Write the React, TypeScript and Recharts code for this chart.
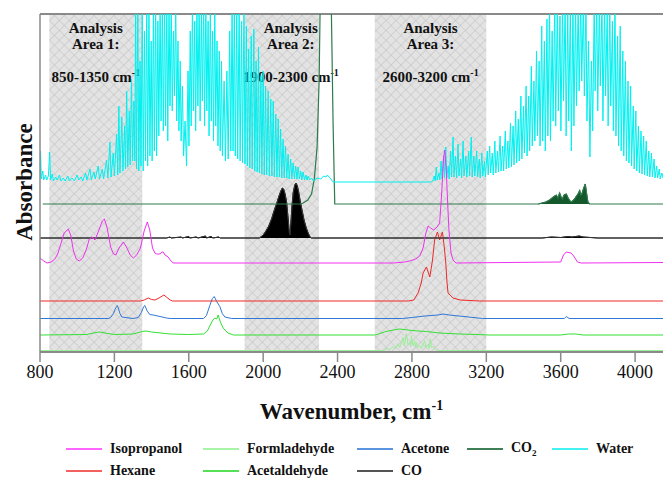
import React from "react";
import {
  ComposedChart,
  Line,
  Area,
  XAxis,
  YAxis,
  ReferenceArea,
  ReferenceLine,
} from "recharts";

// stacked FTIR reference spectra; each series = [wavenumber, absorbance above its own offset]
const X_TICKS = [800, 1200, 1600, 2000, 2400, 2800, 3200, 3600, 4000];
const X_DOMAIN: [number, number] = [800, 4150];
const Y_TOP = 3.38;

const ANALYSIS_AREAS = [
  { n: 1, from: 850, to: 1350 },
  { n: 2, from: 1900, to: 2300 },
  { n: 3, from: 2600, to: 3200 },
];

const OFFSETS = {
  water: 1.71,
  co2: 1.48,
  co: 1.14,
  isopropanol: 0.89,
  hexane: 0.51,
  acetone: 0.335,
  acetaldehyde: 0.17,
  formaldehyde: 0.015,
};

const water: number[][] = [
  [800, 0.04], [803, 0.3], [807, 0.02], [815, 0.1], [820, 0.01], [830, 0.06], [836, 0.01], [845, 0.05],
  [852, 0.29], [857, 0.01], [866, 0.07], [872, 0], [884, 0.04], [892, 0.01], [905, 0.06], [912, 0],
  [925, 0.03], [935, 0], [950, 0.05], [958, 0], [972, 0.03], [985, 0], [1000, 0.06], [1008, 0.01],
  [1022, 0.04], [1030, 0], [1045, 0.08], [1052, 0.01], [1069, 0.12], [1076, 0.01], [1090, 0.09],
  [1097, 0.02], [1113, 0.15], [1120, 0.02], [1135, 0.12], [1142, 0.02], [1158, 0.21], [1165, 0.03],
  [1176, 0.39], [1182, 0.04], [1194, 0.28], [1200, 0.05], [1212, 0.47], [1218, 0.06], [1224, 0.75],
  [1230, 0.08], [1240, 0.64], [1246, 0.1], [1255, 0.55], [1260, 0.12], [1266, 0.9], [1272, 0.14],
  [1280, 0.7], [1285, 0.16], [1292, 1.02], [1298, 0.2], [1305, 0.8], [1310, 0.2],
  [1314, 1.8], [1319, 0.12], [1326, 1.8], [1331, 0.1], [1338, 1.2], [1343, 0.15], [1350, 1.8],
  [1355, 0.1], [1362, 1.5], [1367, 0.2], [1374, 1.8], [1379, 0.15], [1386, 1.8], [1391, 0.25],
  [1398, 1.4], [1403, 0.2], [1410, 1.8], [1415, 0.3], [1422, 1.8], [1427, 0.25], [1434, 1.6],
  [1439, 0.45], [1446, 1.8], [1451, 0.6], [1458, 1.8], [1463, 0.5], [1470, 1.8], [1475, 0.55],
  [1482, 1.8], [1487, 0.4], [1494, 1.8], [1499, 0.75], [1506, 1.8], [1511, 0.7], [1518, 1.5],
  [1523, 0.85], [1530, 1.8], [1535, 0.6], [1542, 1.4], [1547, 0.5], [1554, 1.2], [1559, 0.4],
  [1566, 0.95], [1572, 0.25], [1580, 0.6], [1588, 0.15],
  [1596, 1.1], [1601, 0.35], [1608, 1.5], [1613, 0.55], [1620, 1.8], [1625, 0.7], [1632, 1.6],
  [1637, 0.5], [1644, 1.8], [1649, 0.75], [1656, 1.8], [1661, 0.6], [1668, 1.7], [1673, 0.8],
  [1680, 1.8], [1685, 0.55], [1692, 1.8], [1697, 0.7], [1704, 1.6], [1709, 0.45], [1716, 1.8],
  [1721, 0.6], [1728, 1.5], [1733, 0.4], [1740, 1.8], [1745, 0.55], [1752, 1.4], [1757, 0.35],
  [1764, 1.3], [1769, 0.3], [1776, 1.2], [1781, 0.25], [1790, 1.0], [1797, 0.2], [1805, 1.1],
  [1812, 0.22], [1820, 1.5], [1826, 0.3], [1833, 1.8], [1838, 0.3], [1845, 1.8], [1850, 0.25],
  [1858, 1.7], [1863, 0.22], [1871, 1.8], [1876, 0.2], [1884, 1.6], [1889, 0.18], [1897, 1.8],
  [1902, 0.17], [1910, 1.55], [1915, 0.15], [1922, 1.32], [1928, 0.13], [1936, 1.45], [1941, 0.12],
  [1950, 1.52], [1955, 0.1], [1962, 1.2], [1968, 0.09], [1975, 1.34], [1980, 0.08], [1988, 1.05],
  [1993, 0.07], [2000, 1.1], [2006, 0.06], [2013, 0.95], [2019, 0.06], [2027, 0.9], [2033, 0.05],
  [2041, 0.82], [2047, 0.05], [2054, 0.8], [2060, 0.04], [2068, 0.67], [2074, 0.04], [2081, 0.62],
  [2087, 0.04], [2094, 0.52], [2100, 0.03], [2107, 0.42], [2113, 0.03], [2120, 0.35], [2127, 0.03],
  [2134, 0.27], [2140, 0.02], [2148, 0.22], [2154, 0.02], [2161, 0.18], [2168, 0.02], [2175, 0.15],
  [2182, 0.02], [2188, 0.14], [2195, 0.02], [2202, 0.1], [2208, 0.01], [2215, 0.09], [2222, 0.01],
  [2230, 0.06], [2236, 0.01], [2242, 0.05], [2250, 0.01], [2260, 0.03], [2270, 0], [2290, 0.03],
  [2310, 0.02], [2325, 0.05], [2338, 0.04], [2345, 0.06], [2360, 0.03], [2376, -0.01], [2900, -0.01],
  [2912, 0], [2920, 0.05], [2925, 0], [2931, 0.14], [2936, 0.01], [2945, 0.08], [2950, 0.01],
  [2957, 0.2], [2962, 0.02], [2970, 0.25], [2975, 0.03], [2982, 0.34], [2987, 0.03], [2995, 0.15],
  [3000, 0.02], [3008, 0.3], [3013, 0.04], [3021, 0.44], [3026, 0.04], [3034, 0.25], [3040, 0.03],
  [3048, 0.37], [3053, 0.05], [3062, 0.22], [3067, 0.03], [3075, 0.4], [3080, 0.05], [3090, 0.25],
  [3095, 0.04], [3105, 0.3], [3110, 0.05], [3119, 0.44], [3124, 0.04], [3133, 0.25], [3138, 0.05],
  [3148, 0.3], [3153, 0.04], [3162, 0.22], [3167, 0.03], [3176, 0.28], [3181, 0.05], [3190, 0.2],
  [3195, 0.04], [3205, 0.3], [3210, 0.06], [3218, 0.35], [3223, 0.08], [3232, 0.28], [3237, 0.06],
  [3246, 0.4], [3251, 0.08], [3260, 0.3], [3265, 0.09], [3274, 0.45], [3279, 0.1], [3288, 0.35],
  [3293, 0.1], [3302, 0.5], [3307, 0.12], [3316, 0.4], [3321, 0.13], [3330, 0.58], [3335, 0.14],
  [3344, 0.55], [3349, 0.16], [3358, 0.7], [3363, 0.18], [3372, 0.62], [3377, 0.2], [3386, 0.85],
  [3391, 0.22], [3400, 0.75], [3405, 0.28], [3414, 0.95], [3419, 0.25], [3428, 0.85], [3433, 0.3],
  [3442, 1.15], [3447, 0.35], [3456, 1.0], [3461, 0.4], [3470, 1.3], [3475, 0.45], [3484, 1.2],
  [3489, 0.35], [3498, 1.55], [3503, 0.4], [3512, 1.4], [3517, 0.3], [3526, 1.62], [3531, 0.45],
  [3540, 1.8], [3545, 0.4], [3554, 1.5], [3559, 0.6], [3568, 1.8], [3573, 0.55], [3582, 1.8],
  [3587, 0.7], [3596, 1.65], [3601, 0.5], [3610, 1.8], [3615, 0.8], [3624, 1.8], [3629, 0.45],
  [3638, 1.7], [3643, 0.6], [3652, 1.8], [3657, 0.3], [3666, 1.8], [3671, 0.55], [3680, 1.8],
  [3685, 0.75], [3694, 1.8], [3699, 0.9], [3708, 1.8], [3713, 1.0], [3722, 1.8], [3727, 0.85],
  [3736, 1.8], [3741, 0.6], [3750, 1.4], [3757, 0.24], [3765, 1.2], [3772, 0.5], [3780, 1.8],
  [3785, 0.9], [3794, 1.8], [3799, 0.7], [3808, 1.8], [3813, 0.95], [3822, 1.8], [3827, 0.6],
  [3836, 1.8], [3841, 0.85], [3850, 1.7], [3855, 0.55], [3864, 1.8], [3869, 0.75], [3878, 1.6],
  [3883, 0.5], [3892, 1.8], [3897, 0.45], [3906, 1.45], [3911, 0.35], [3920, 1.55], [3925, 0.3],
  [3934, 1.3], [3939, 0.25], [3948, 1.2], [3953, 0.2], [3962, 1.0], [3967, 0.18], [3976, 0.95],
  [3981, 0.15], [3990, 0.75], [3995, 0.12], [4004, 0.7], [4009, 0.1], [4018, 0.55], [4023, 0.08],
  [4032, 0.5], [4037, 0.07], [4046, 0.45], [4051, 0.06], [4060, 0.4], [4065, 0.05], [4074, 0.3],
  [4079, 0.04], [4088, 0.28], [4093, 0.04], [4102, 0.22], [4107, 0.03], [4116, 0.15], [4121, 0.03],
  [4130, 0.12], [4135, 0.02], [4144, 0.08], [4150, 0.03],
];

const co2: number[][] = [
  [815, 0], [2200, 0], [2215, 0.01], [2240, 0.04], [2260, 0.1], [2275, 0.25], [2290, 0.57],
  [2301, 1.24], [2308, 2.2], [2312, 2.4], [2330, 2.4], [2350, 2.4], [2362, 2.3], [2367, 1.9],
  [2376, 0.8], [2385, 0], [3480, 0], [3520, 0.02], [3540, 0.04], [3560, 0.07], [3576, 0.09],
  [3585, 0.06], [3594, 0.11], [3602, 0.07], [3609, 0.05], [3618, 0.09], [3630, 0.1], [3640, 0.06],
  [3650, 0.03], [3657, 0.02], [3670, 0.04], [3685, 0.08], [3693, 0.1], [3702, 0.135], [3708, 0.09],
  [3714, 0.1], [3722, 0.15], [3732, 0.2], [3738, 0.12], [3746, 0.02], [3755, 0], [4150, 0],
];

const co: number[][] = [
  [800, 0], [1480, 0], [1500, 0.01], [1505, 0], [1560, 0.01], [1565, 0], [1600, 0.015], [1605, 0],
  [1640, 0.01], [1650, 0], [1690, 0.02], [1695, 0], [1720, 0.015], [1730, 0], [1760, 0.01],
  [1770, 0], [1980, 0], [2000, 0.03], [2015, 0.07], [2030, 0.12], [2045, 0.19], [2060, 0.28],
  [2075, 0.36], [2085, 0.42], [2095, 0.47], [2103, 0.5], [2110, 0.49], [2118, 0.44], [2126, 0.36],
  [2134, 0.2], [2141, 0.05], [2144, 0.03], [2148, 0.12], [2155, 0.32], [2162, 0.46], [2170, 0.53],
  [2177, 0.55], [2184, 0.52], [2192, 0.45], [2200, 0.36], [2210, 0.27], [2220, 0.18], [2232, 0.1],
  [2242, 0.05], [2252, 0.01], [2260, 0], [3500, 0], [3550, 0.01], [3600, 0.005], [3640, 0.015],
  [3660, 0.01], [3700, 0.02], [3720, 0.01], [3760, 0.005], [3800, 0], [4150, 0],
];

const isopropanol: number[][] = [
  [800, 0.05], [820, 0.02], [838, 0], [860, 0.01], [880, 0.04], [895, 0.09], [910, 0.18],
  [930, 0.3], [952, 0.34], [965, 0.28], [980, 0.12], [995, 0.04], [1011, 0.02], [1030, 0.05],
  [1050, 0.14], [1065, 0.24], [1078, 0.26], [1096, 0.23], [1115, 0.32], [1135, 0.42], [1146, 0.44],
  [1160, 0.36], [1180, 0.16], [1195, 0.09], [1208, 0.08], [1225, 0.15], [1248, 0.21], [1265, 0.16],
  [1285, 0.08], [1302, 0.05], [1320, 0.08], [1340, 0.15], [1360, 0.32], [1377, 0.41], [1390, 0.33],
  [1405, 0.15], [1418, 0.1], [1427, 0.09], [1445, 0.09], [1455, 0.11], [1463, 0.11], [1472, 0.08],
  [1489, 0.06], [1500, 0.03], [1516, 0], [2700, 0], [2760, 0.01], [2788, 0.02], [2820, 0.04],
  [2842, 0.07], [2860, 0.15], [2875, 0.3], [2887, 0.37], [2900, 0.35], [2917, 0.33], [2935, 0.36],
  [2949, 0.4], [2960, 0.7], [2970, 1.05], [2976, 1.13], [2984, 0.95], [2992, 0.6], [2999, 0.33],
  [3010, 0.1], [3021, 0.03], [3037, 0], [3600, 0.01], [3615, 0.08], [3630, 0.11], [3655, 0.1],
  [3670, 0.07], [3690, 0.01], [3710, 0], [4150, 0.005],
];

const hexane: number[][] = [
  [800, 0], [1340, 0], [1360, 0.01], [1382, 0.03], [1400, 0.015], [1418, 0.01], [1440, 0.03],
  [1466, 0.06], [1480, 0.04], [1500, 0.01], [1513, 0], [2780, 0], [2810, 0.01], [2833, 0.08],
  [2850, 0.18], [2860, 0.28], [2878, 0.34], [2896, 0.24], [2910, 0.4], [2922, 0.61], [2937, 0.69],
  [2949, 0.61], [2964, 0.69], [2975, 0.52], [2982, 0.38], [2988, 0.2], [2994, 0.08], [3021, 0.03],
  [3060, 0.01], [3164, 0], [4150, 0],
];

const acetone: number[][] = [
  [800, 0], [1170, 0], [1180, 0.01], [1195, 0.05], [1203, 0.09], [1212, 0.12], [1215, 0.13],
  [1220, 0.11], [1230, 0.05], [1240, 0.015], [1300, 0], [1328, 0.01], [1345, 0.06], [1358, 0.12],
  [1364, 0.13], [1375, 0.08], [1390, 0.04], [1409, 0.035], [1445, 0.02], [1480, 0.005], [1500, 0],
  [1680, 0], [1695, 0.03], [1713, 0.13], [1727, 0.2], [1737, 0.22], [1750, 0.17], [1767, 0.12],
  [1780, 0.05], [1794, 0.015], [1830, 0], [2750, 0], [2800, 0.01], [2870, 0.025], [2940, 0.035],
  [2967, 0.045], [3000, 0.035], [3080, 0.02], [3180, 0], [3620, 0], [3630, 0.02], [3645, 0],
  [4150, 0],
];

const acetaldehyde: number[][] = [
  [800, 0], [1050, 0.005], [1100, 0.025], [1122, 0.03], [1150, 0.02], [1200, 0.005], [1300, 0.01],
  [1350, 0.035], [1370, 0.04], [1400, 0.03], [1500, 0.01], [1600, 0.005], [1680, 0.01], [1700, 0.04],
  [1715, 0.1], [1730, 0.15], [1740, 0.17], [1750, 0.16], [1758, 0.2], [1770, 0.13], [1785, 0.07],
  [1810, 0.02], [1840, 0], [2600, 0], [2620, 0.01], [2660, 0.035], [2700, 0.05], [2734, 0.06],
  [2780, 0.05], [2830, 0.04], [2878, 0.035], [2950, 0.02], [3057, 0.01], [3150, 0.005], [3215, 0],
  [3600, 0], [3640, 0.01], [3680, 0.01], [3720, 0], [4150, 0],
];

const formaldehyde: number[][] = [
  [800, 0], [2650, 0], [2665, 0.02], [2680, 0.01], [2700, 0.04], [2710, 0.02], [2725, 0.07],
  [2735, 0.03], [2752, 0.13], [2760, 0.05], [2770, 0.17], [2778, 0.06], [2788, 0.08], [2793, 0.04],
  [2797, 0.15], [2805, 0.05], [2815, 0.1], [2820, 0.04], [2824, 0.08], [2832, 0.03], [2842, 0.05],
  [2850, 0.02], [2869, 0.1], [2875, 0.03], [2887, 0.06], [2893, 0.02], [2899, 0.12], [2905, 0.03],
  [2914, 0.04], [2925, 0.01], [2940, 0], [4150, 0],
];

const LEGEND_ROWS = [
  [
    { name: "Isopropanol", color: "#ff66ff" },
    { name: "Formladehyde", color: "#a8f5a8" },
    { name: "Acetone", color: "#5b95e0" },
    { name: "CO", sub: "2", color: "#3f7f58" },
    { name: "Water", color: "#44f2f2" },
  ],
  [
    { name: "Hexane", color: "#f26060" },
    { name: "Acetaldehyde", color: "#55e055" },
    { name: "CO", color: "#555555" },
  ],
];

const stack = (pts: number[][], base: number) => pts.map(([x, h]) => ({ x, y: base + h }));

const SERIF = "'Liberation Serif', 'Times New Roman', serif";
const boldSerif = { fontFamily: SERIF, fontWeight: 700 };

function AreaLabel({ viewBox, n, from, to, dx = 0 }: any) {
  if (!viewBox) return null;
  const cx = viewBox.x + viewBox.width / 2 + dx;
  return (
    <g textAnchor="middle" fill="#111">
      <text x={cx} y={33} fontSize={15} style={boldSerif}>Analysis</text>
      <text x={cx} y={49} fontSize={15} style={boldSerif}>Area {n}:</text>
      <text x={cx} y={82} fontSize={15} style={boldSerif}>
        {from}-{to} cm<tspan dy={-6} fontSize={10}>-1</tspan>
      </text>
    </g>
  );
}

function XTick({ x, y, payload }: any) {
  return (
    <text x={x} y={y + 14} textAnchor="middle" fill="#111" fontSize={18} style={{ fontFamily: SERIF }}>
      {payload.value}
    </text>
  );
}

function XTitle({ viewBox }: any) {
  if (!viewBox) return null;
  return (
    <text
      x={viewBox.x + viewBox.width / 2}
      y={viewBox.y + 67}
      textAnchor="middle"
      fontSize={23}
      fill="#111"
      style={boldSerif}
    >
      Wavenumber, cm<tspan dy={-9} fontSize={14}>-1</tspan>
    </text>
  );
}

function YTitle() {
  return (
    <text
      x={24}
      y={182}
      transform="rotate(-90 24 182)"
      textAnchor="middle"
      dominantBaseline="central"
      fontSize={23}
      fill="#111"
      style={boldSerif}
    >
      Absorbance
    </text>
  );
}

function Legend() {
  const cols = [66, 203, 357, 467, 552];
  return (
    <>
      {LEGEND_ROWS.map((row, r) =>
        row.map((item, c) => (
          <div
            key={item.name + r + c}
            style={{
              position: "absolute",
              left: cols[c],
              top: 440 + r * 22,
              height: 18,
              display: "flex",
              alignItems: "center",
              fontFamily: SERIF,
              fontWeight: "bold",
              fontSize: 14,
              color: "#111",
              whiteSpace: "nowrap",
            }}
          >
            <span style={{ width: 36, height: 2, background: item.color, marginRight: 8 }} />
            <span>
              {item.name}
              {item.sub && <sub style={{ fontSize: 9 }}>{item.sub}</sub>}
            </span>
          </div>
        ))
      )}
    </>
  );
}

export default function App() {
  const co2Band = co2.filter(([x]) => x >= 3480 && x <= 3760);
  return (
    <div style={{ position: "absolute", left: 0, top: 0, width: 663, height: 487, background: "#fff" }}>
      <ComposedChart width={663} height={430} margin={{ top: 14, right: 0, bottom: 0, left: 0 }}>
        <defs>
          <pattern id="hatch" width={7} height={7} patternUnits="userSpaceOnUse" patternTransform="rotate(45)">
            <rect width={7} height={7} fill="#e3e3e3" />
            <path d="M0 0H7M0 0V7" stroke="#c2c2c2" strokeWidth={1.2} />
          </pattern>
        </defs>
        {ANALYSIS_AREAS.map((a) => (
          <ReferenceArea
            key={a.n}
            x1={a.from}
            x2={a.to}
            y1={0}
            y2={Y_TOP}
            fill="url(#hatch)"
            fillOpacity={1}
            stroke="none"
            zIndex={-50}
            label={<AreaLabel n={a.n} from={a.from} to={a.to} dx={a.n === 2 ? 9 : 0} />}
          />
        ))}
        <XAxis
          type="number"
          dataKey="x"
          domain={X_DOMAIN}
          ticks={X_TICKS}
          allowDataOverflow
          height={78}
          tickSize={10}
          axisLine={{ stroke: "#8a8a8a", strokeWidth: 2 }}
          tickLine={{ stroke: "#8a8a8a", strokeWidth: 1.5 }}
          tick={<XTick />}
          label={<XTitle />}
        />
        <YAxis
          type="number"
          domain={[0, Y_TOP]}
          allowDataOverflow
          width={40}
          tick={false}
          tickLine={false}
          axisLine={{ stroke: "#8a8a8a", strokeWidth: 1.5 }}
          label={<YTitle />}
        />
        <ReferenceLine y={Y_TOP} stroke="#8a8a8a" strokeWidth={2} />
        <Area
          data={stack(co, OFFSETS.co)}
          dataKey="y"
          type="linear"
          baseValue={OFFSETS.co}
          stroke="#222"
          strokeWidth={1}
          fill="#000"
          fillOpacity={1}
          isAnimationActive={false}
        />
        <Area
          data={stack(co2Band, OFFSETS.co2)}
          dataKey="y"
          type="linear"
          baseValue={OFFSETS.co2}
          stroke="#14582c"
          fill="#14582c"
          fillOpacity={1}
          isAnimationActive={false}
        />
        <Line data={stack(formaldehyde, OFFSETS.formaldehyde)} dataKey="y" type="linear" stroke="#99f099" strokeWidth={1} dot={false} isAnimationActive={false} />
        <Line data={stack(acetaldehyde, OFFSETS.acetaldehyde)} dataKey="y" type="linear" stroke="#33e033" strokeWidth={1} dot={false} isAnimationActive={false} />
        <Line data={stack(acetone, OFFSETS.acetone)} dataKey="y" type="linear" stroke="#2f78d6" strokeWidth={1} dot={false} isAnimationActive={false} />
        <Line data={stack(hexane, OFFSETS.hexane)} dataKey="y" type="linear" stroke="#f02828" strokeWidth={1} dot={false} isAnimationActive={false} />
        <Line data={stack(co, OFFSETS.co)} dataKey="y" type="linear" stroke="#333" strokeWidth={1} dot={false} isAnimationActive={false} />
        <Line data={stack(co2, OFFSETS.co2)} dataKey="y" type="linear" stroke="#2e7a4c" strokeWidth={1.2} dot={false} isAnimationActive={false} />
        <Line data={stack(water, OFFSETS.water)} dataKey="y" type="linear" stroke="#00f0f0" strokeWidth={1} dot={false} isAnimationActive={false} />
        <Line data={stack(isopropanol, OFFSETS.isopropanol)} dataKey="y" type="linear" stroke="#f030f0" strokeWidth={1} dot={false} isAnimationActive={false} />
      </ComposedChart>
      <Legend />
    </div>
  );
}
